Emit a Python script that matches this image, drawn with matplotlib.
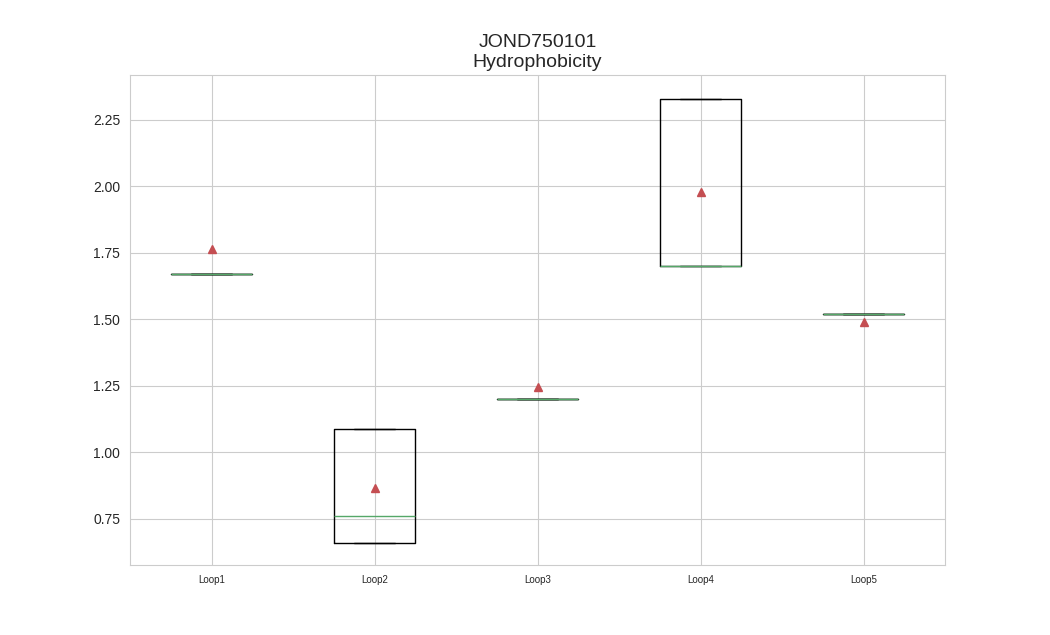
import matplotlib
matplotlib.use("Agg")
import matplotlib.pyplot as plt
import seaborn as sns

# === DATA ===
loops = ["Loop1", "Loop2", "Loop3", "Loop4", "Loop5"]
q1 = [1.67, 0.66, 1.20, 1.70, 1.52]
med = [1.67, 0.76, 1.20, 1.70, 1.52]
q3 = [1.67, 1.09, 1.20, 2.33, 1.52]
whislo = [1.67, 0.66, 1.20, 1.70, 1.52]
whishi = [1.67, 1.09, 1.20, 2.33, 1.52]
means = [1.765, 0.865, 1.245, 1.98, 1.49]

sns.set_style("whitegrid")
plt.rcParams["font.family"] = ["Liberation Sans", "DejaVu Sans"]

stats = []
for i, name in enumerate(loops):
    stats.append({"label": name, "q1": q1[i], "med": med[i], "q3": q3[i],
                  "whislo": whislo[i], "whishi": whishi[i], "mean": means[i], "fliers": []})

fig = plt.figure(figsize=(10.5, 6.35), dpi=100)
ax = fig.add_axes([130 / 1050, 70 / 635, 815 / 1050, 490 / 635])
ax.bxp(stats, showmeans=True, widths=0.5,
       boxprops=dict(color="black"),
       whiskerprops=dict(color="black"),
       capprops=dict(color="black"),
       medianprops=dict(color="#55A868"),
       meanprops=dict(marker="^", markerfacecolor="#C44E52", markeredgecolor="#C44E52", markersize=6))

ax.set_ylim(0.577, 2.419)
ax.set_title("JOND750101\nHydrophobicity", fontsize=14)
ax.tick_params(axis="x", labelsize=7)
ax.tick_params(axis="y", labelsize=10)
ax.grid(True, color="#cccccc")
for s in ax.spines.values():
    s.set_color("#cccccc")

fig.savefig("out.png", dpi=100)
